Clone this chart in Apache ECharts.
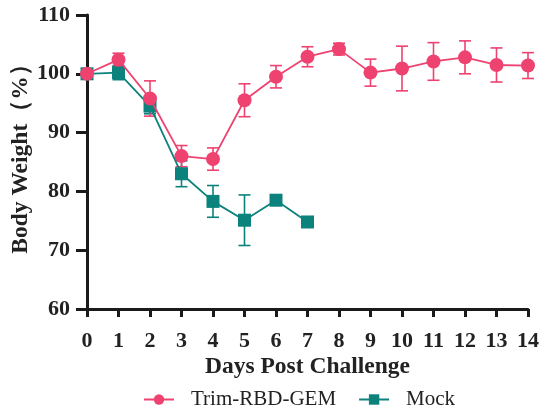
<!DOCTYPE html>
<html>
<head>
<meta charset="utf-8">
<script src="https://cdn.jsdelivr.net/npm/echarts@6/dist/echarts.min.js"></script>
<style>
  html, body { margin: 0; padding: 0; background: #fff; }
  #main { width: 541px; height: 412px; }
</style>
</head>
<body>
<div id="main"></div>
<script>
const days = [0, 1, 2, 3, 4, 5, 6, 7, 8, 9, 10, 11, 12, 13, 14];
const mockDays = [0, 1, 2, 3, 4, 5, 6, 7];
const trimMean = [100, 102.4, 95.8, 86.0, 85.5, 95.5, 99.5, 102.9, 104.2, 100.2, 100.9, 102.1, 102.8, 101.5, 101.4];
const trimErr = [0, 1.1, 3.0, 1.8, 1.9, 2.8, 1.9, 1.7, 1.0, 2.3, 3.8, 3.2, 2.8, 2.9, 2.2];
const mockMean = [100, 100.2, 94.5, 83.0, 78.3, 75.1, 78.5, 74.8];
const mockErr = [0, 1.2, 1.3, 2.2, 2.7, 4.3, 0, 0];
const yTicks = [60, 70, 80, 90, 100, 110];

const pink = "#ee4270";
const teal = "#0b827c";
const serif = "'Liberation Serif', 'DejaVu Serif', serif";

function errorData(xs, mean, err) {
  return xs.map((x, i) => [x, mean[i] - err[i], mean[i] + err[i]]);
}

function errorSeries(name, data, color) {
  return {
    type: "custom",
    name: name + "-err",
    data: data,
    z: 1,
    silent: true,
    renderItem: function (params, api) {
      const x = api.value(0);
      const lo = api.coord([x, api.value(1)]);
      const hi = api.coord([x, api.value(2)]);
      const w = 6;
      const style = { stroke: color, lineWidth: 1.6 };
      return {
        type: "group",
        children: [
          { type: "line", shape: { x1: lo[0], y1: lo[1], x2: hi[0], y2: hi[1] }, style: style },
          { type: "line", shape: { x1: lo[0] - w, y1: lo[1], x2: lo[0] + w, y2: lo[1] }, style: style },
          { type: "line", shape: { x1: hi[0] - w, y1: hi[1], x2: hi[0] + w, y2: hi[1] }, style: style },
        ],
      };
    },
  };
}

const chart = echarts.init(document.getElementById("main"));
chart.setOption({
  animation: false,
  grid: { left: 87, right: 13, top: 15, bottom: 103, containLabel: false, outerBoundsMode: "none" },
  legend: {
    top: 384,
    left: 138,
    itemWidth: 30,
    itemHeight: 13,
    itemGap: 22,
    data: ["Trim-RBD-GEM", "Mock"],
    textStyle: { fontFamily: serif, fontSize: 21, color: "#222", padding: [0, 0, 0, 12] },
  },
  xAxis: {
    type: "value",
    min: 0,
    max: 14,
    interval: 1,
    name: "Days Post Challenge",
    nameLocation: "middle",
    nameGap: 46,
    nameMoveOverlap: false,
    nameTextStyle: { fontFamily: serif, fontSize: 23.5, fontWeight: "bold", color: "#222" },
    axisLine: { lineStyle: { color: "#1a1a1a", width: 3 } },
    axisTick: { length: 8, lineStyle: { color: "#1a1a1a", width: 3 } },
    axisLabel: { fontFamily: serif, fontSize: 22, fontWeight: "bold", color: "#222", margin: 21 },
    splitLine: { show: false },
  },
  yAxis: {
    type: "value",
    min: yTicks[0],
    max: yTicks[yTicks.length - 1],
    interval: 10,
    name: "Body Weight（%）",
    nameLocation: "middle",
    nameGap: 54,
    nameMoveOverlap: false,
    nameTextStyle: { fontFamily: serif, fontSize: 23.5, fontWeight: "bold", color: "#222", padding: [0, 0, 0, 18] },
    axisLine: { show: true, lineStyle: { color: "#1a1a1a", width: 3 } },
    axisTick: { show: true, length: 11, lineStyle: { color: "#1a1a1a", width: 3 } },
    axisLabel: { fontFamily: serif, fontSize: 22, fontWeight: "bold", color: "#222", margin: 17 },
    splitLine: { show: false },
  },
  series: [
    errorSeries("Mock", errorData(mockDays, mockMean, mockErr), teal),
    errorSeries("Trim-RBD-GEM", errorData(days, trimMean, trimErr), pink),
    {
      name: "Mock",
      type: "line",
      data: mockDays.map((d, i) => [d, mockMean[i]]),
      symbol: "rect",
      symbolSize: 13,
      z: 2,
      itemStyle: { color: teal },
      lineStyle: { color: teal, width: 1.8 },
    },
    {
      name: "Trim-RBD-GEM",
      type: "line",
      data: days.map((d, i) => [d, trimMean[i]]),
      symbol: "circle",
      symbolSize: 14,
      z: 3,
      itemStyle: { color: pink },
      lineStyle: { color: pink, width: 1.8 },
    },
  ],
});
</script>
</body>
</html>
